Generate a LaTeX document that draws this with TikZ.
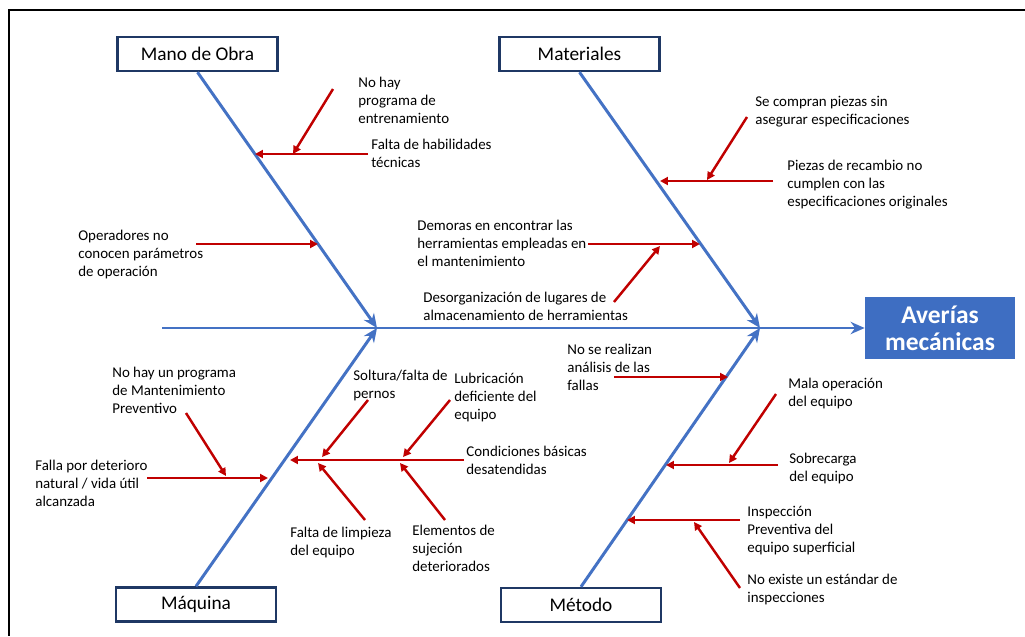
\documentclass[tikz,border=0pt]{standalone}
\usepackage{fontspec}
\setmainfont{Carlito}
\usetikzlibrary{arrows.meta}
\definecolor{azulEspina}{HTML}{4472C4}
\definecolor{rojoCausa}{HTML}{C00000}
\definecolor{azulMarco}{HTML}{1F3864}
\definecolor{azulEfecto}{HTML}{3E6EC2}
\begin{document}
\begin{tikzpicture}[x=0.02cm, y=-0.02cm,
  espina/.style={draw=azulEspina, line width=1.7pt, -{Stealth[length=8pt, width=7pt]}},
  causa/.style={draw=rojoCausa, line width=1.4pt, -{Triangle[length=4.5pt, width=4.5pt]}},
  categoria/.style={draw=azulMarco, line width=1.4pt, fill=white, minimum width=3.2cm,
    minimum height=0.68cm, inner sep=0pt, font=\fontsize{11}{13}\selectfont},
  texto/.style={anchor=north west, inner sep=0pt, align=left, font=\fontsize{8.5}{10.2}\selectfont}]
\useasboundingbox (0,0) rectangle (1025,636);
\draw [line width=1.1pt] (1025,10) -- (9,10) -- (9,636);

% efecto y espina central
\node [fill=azulEfecto, text=white, minimum width=3cm, minimum height=1.24cm, inner sep=0pt,
  align=center, font=\bfseries\fontsize{14.5}{15.5}\selectfont] (efecto) at (940,328) {Averías\\mecánicas};
\coordinate (cola) at (162,328);
\coordinate (j1) at (377,328);
\coordinate (j2) at (760,328);
\draw [espina] (cola) -- (efecto.west);

% categorias
\node [categoria] (mano) at (197.5,54) {Mano de Obra};
\node [categoria] (mat) at (579.5,54) {Materiales};
\node [categoria] (maq) at (196,604.5) {Máquina};
\node [categoria] (met) at (581,605) {Método};
\draw [espina] (mano.south) -- (j1);
\draw [espina] (mat.south) -- (j2);
\draw [espina] (maq.north) -- (j1);
\draw [espina] (met.north) -- (j2);

% Mano de Obra
\node [texto] (t1) at (358,77) {No hay\\programa de\\entrenamiento};
\node [texto] (t2) at (371,139) {Falta de habilidades\\técnicas};
\node [texto] (t3) at (78,230) {Operadores no\\conocen parámetros\\de operación};
\coordinate (a1) at (333,89);   \coordinate (b1) at (293,154);
\coordinate (a2) at (368,154);  \coordinate (b2) at (255,154);
\coordinate (a3) at (196,244);  \coordinate (b3) at (318,244);
\draw [causa] (a2) -- (b2);
\draw [causa] (a1) -- (b1);
\draw [causa] (a3) -- (b3);

% Materiales
\node [texto] (t4) at (755,96) {Se compran piezas sin\\asegurar especificaciones};
\node [texto] (t5) at (787,160) {Piezas de recambio no\\cumplen con las\\especificaciones originales};
\node [texto] (t6) at (417,220) {Demoras en encontrar las\\herramientas empleadas en\\el mantenimiento};
\node [texto] (t7) at (423,292) {Desorganización de lugares de\\almacenamiento de herramientas};
\coordinate (a4) at (747,117);  \coordinate (b4) at (707,180);
\coordinate (a5) at (773,181);  \coordinate (b5) at (660,181);
\coordinate (a6) at (588,244);  \coordinate (b6) at (700,244);
\coordinate (a7) at (614,302);  \coordinate (b7) at (660,246);
\draw [causa] (a5) -- (b5);
\draw [causa] (a4) -- (b4);
\draw [causa] (a6) -- (b6);
\draw [causa] (a7) -- (b7);

% Maquina
\node [texto] (t8) at (112,367) {No hay un programa\\de Mantenimiento\\Preventivo};
\node [texto] (t9) at (35,460) {Falla por deterioro\\natural / vida útil\\alcanzada};
\node [texto] (t10) at (353,370) {Soltura/falta de\\pernos};
\node [texto] (t11) at (454,373) {Lubricación\\deficiente del\\equipo};
\node [texto] (t12) at (466,446) {Condiciones básicas\\desatendidas};
\node [texto] (t13) at (290,527) {Falta de limpieza\\del equipo};
\node [texto] (t14) at (412,525) {Elementos de\\sujeción\\deteriorados};
\coordinate (a8) at (147,478);  \coordinate (b8) at (268,478);
\coordinate (a9) at (186,413);  \coordinate (b9) at (226,476);
\coordinate (a10) at (464,460); \coordinate (b10) at (290,460);
\coordinate (a11) at (368,400); \coordinate (b11) at (322,457);
\coordinate (a12) at (450,400); \coordinate (b12) at (403,457);
\coordinate (a13) at (365,520); \coordinate (b13) at (318,463);
\coordinate (a14) at (445,520); \coordinate (b14) at (400,463);
\draw [causa] (a8) -- (b8);
\draw [causa] (a9) -- (b9);
\draw [causa] (a10) -- (b10);
\draw [causa] (a11) -- (b11);
\draw [causa] (a12) -- (b12);
\draw [causa] (a13) -- (b13);
\draw [causa] (a14) -- (b14);

% Metodo
\node [texto] (t15) at (567,344) {No se realizan\\análisis de las\\fallas};
\node [texto] (t16) at (788,378) {Mala operación\\del equipo};
\node [texto] (t17) at (789,453) {Sobrecarga\\del equipo};
\node [texto] (t18) at (747,506) {Inspección\\Preventiva del\\equipo superficial};
\node [texto] (t19) at (747,574) {No existe un estándar de\\inspecciones};
\coordinate (a15) at (614,377); \coordinate (b15) at (728,377);
\coordinate (a16) at (778,465); \coordinate (b16) at (666,465);
\coordinate (a17) at (776,394); \coordinate (b17) at (729,463);
\coordinate (a18) at (740,520); \coordinate (b18) at (627,520);
\coordinate (a19) at (740,588); \coordinate (b19) at (694,522);
\draw [causa] (a15) -- (b15);
\draw [causa] (a16) -- (b16);
\draw [causa] (a17) -- (b17);
\draw [causa] (a18) -- (b18);
\draw [causa] (a19) -- (b19);
\end{tikzpicture}
\end{document}
